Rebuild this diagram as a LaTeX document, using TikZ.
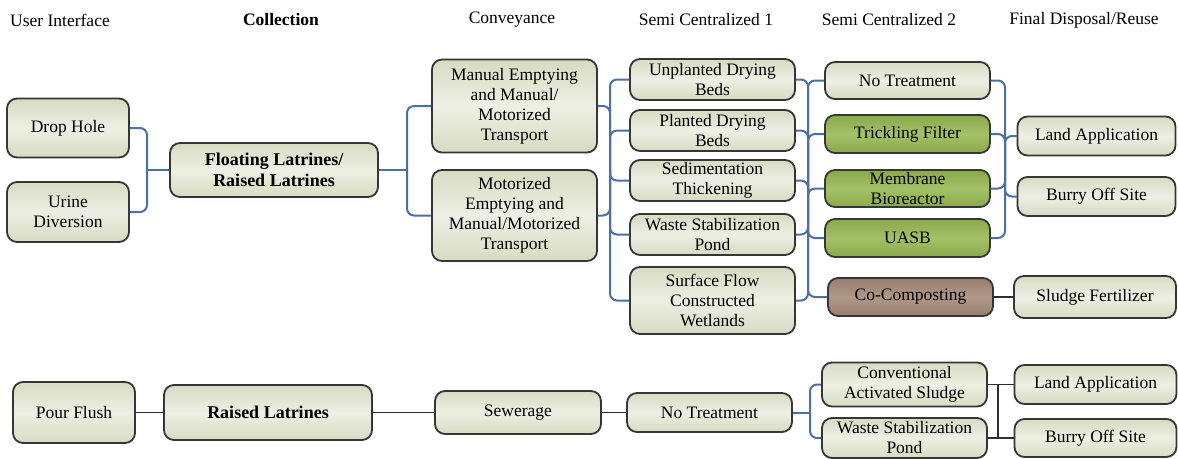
\documentclass[tikz,border=0pt]{standalone}
\usepackage{fontspec}
\setmainfont{Liberation Serif}
\usetikzlibrary{calc}
\definecolor{bord}{HTML}{363636}
\definecolor{bgA}{HTML}{D8DBC2}
\definecolor{bgB}{HTML}{EDEFE3}
\definecolor{grA}{HTML}{8AA94A}
\definecolor{grB}{HTML}{A3C167}
\definecolor{brA}{HTML}{977E6D}
\definecolor{brB}{HTML}{B09888}
\definecolor{link}{HTML}{4E6FA2}
\definecolor{dlink}{HTML}{2E2E2E}
\tikzset{
  box/.style={draw=bord, line width=1.8pt, rounded corners=10pt, top color=bgA, bottom color=bgA, middle color=bgB, align=center, inner sep=0pt, font=\fontsize{17.5}{20}\selectfont},
  gbox/.style={box, top color=grA, bottom color=grA, middle color=grB},
  bbox/.style={box, top color=brA, bottom color=brA, middle color=brB},
  sz/.style 2 args={minimum width=#1pt, minimum height=#2pt},
  conn/.style={draw=link, line width=2pt, rounded corners=7pt},
  dconn/.style={draw=dlink, line width=1.8pt},
  hdr/.style={font=\fontsize{17.5}{20}\selectfont, inner sep=0pt},
}
\begin{document}
\begin{tikzpicture}[x=1pt,y=-1pt]
\useasboundingbox (0,0) rectangle (1178,458);
\fill[white] (0,0) rectangle (1178,458);
% headers
\node[hdr] (h1) at (60,20) {User Interface};
\node[hdr] (h2) at (281,20) {\bfseries Collection};
\node[hdr] (h3) at (512,20) {Conveyance};
\node[hdr] (h4) at (706,20) {Semi Centralized 1};
\node[hdr] (h5) at (889,20) {Semi Centralized 2};
\node[hdr] (h6) at (1084,20) {Final Disposal/Reuse};
% top system
\node[box, sz={122}{59}] (dh) at (68,128) {Drop Hole};
\node[box, sz={122}{60}] (ud) at (68,212) {Urine\\Diversion};
\node[box, sz={208}{54}, font=\fontsize{18}{20.5}\selectfont\bfseries] (fl) at (274,170) {Floating Latrines/\\Raised Latrines};
\node[box, sz={165}{93}] (man) at (514.5,106) {Manual Emptying\\and Manual/\\Motorized\\Transport};
\node[box, sz={165}{91}] (mot) at (514.5,215.5) {Motorized\\Emptying and\\Manual/Motorized\\Transport};
\node[box, sz={165}{41}] (unp) at (712.5,79.5) {Unplanted Drying\\Beds};
\node[box, sz={165}{41}] (pla) at (712.5,130.5) {Planted Drying\\Beds};
\node[box, sz={165}{41}] (sed) at (712.5,180.5) {Sedimentation\\Thickening};
\node[box, sz={165}{41}] (wsp) at (712.5,234.5) {Waste Stabilization\\Pond};
\node[box, sz={165}{67}] (sfc) at (712.5,300.5) {Surface Flow\\Constructed\\Wetlands};
\node[box, sz={165}{37}] (ntr) at (907.5,80.5) {No Treatment};
\node[gbox, sz={165}{38}] (trf) at (907.5,134) {Trickling Filter};
\node[gbox, sz={165}{37}] (mbr) at (907.5,188.5) {Membrane\\Bioreactor};
\node[gbox, sz={165}{38}] (uasb) at (907.5,238) {UASB};
\node[bbox, sz={165}{38}] (coc) at (910.5,297) {Co-Composting};
\node[box, sz={158}{39}] (lap) at (1096.5,136) {Land Application};
\node[box, sz={158}{39}] (bos) at (1096.5,196.5) {Burry Off Site};
\node[box, sz={162}{42}] (slf) at (1095,297) {Sludge Fertilizer};
% bottom system
\node[box, sz={122}{61}] (pf) at (74,412.5) {Pour Flush};
\node[box, sz={208}{55}, font=\fontsize{18}{20.5}\selectfont\bfseries] (rl) at (268,412.5) {Raised Latrines};
\node[box, sz={166}{43}] (sew) at (518,412.5) {Sewerage};
\node[box, sz={165}{39}] (nt2) at (709.5,412.5) {No Treatment};
\node[box, sz={165}{44}] (cas) at (904.5,384.5) {Conventional\\Activated Sludge};
\node[box, sz={165}{40}] (wsp2) at (904.5,438) {Waste Stabilization\\Pond};
\node[box, sz={162}{39}] (la2) at (1095.5,384.5) {Land Application};
\node[box, sz={162}{38}] (bo2) at (1095.5,438) {Burry Off Site};
% bus points
\coordinate (b0) at (147,170);
\coordinate (b1) at (407,170);
\coordinate (b2) at (610,170);
\coordinate (b3) at (808,190);
\coordinate (b4) at (1005,165);
\coordinate (b5) at (810,412.5);
\coordinate (b6) at (998,412);
% top connectors
\draw[conn] (dh.east) -| (b0);
\draw[conn] (ud.east) -| (b0);
\draw[conn] (b0) -- (fl.west);
\draw[conn] (fl.east) -- (b1);
\draw[conn] (b1) |- (man.west);
\draw[conn] (b1) |- (mot.west);
\draw[conn] (man.east) -| (b2);
\draw[conn] (mot.east) -| (b2);
\foreach \n in {unp,pla,sed,wsp,sfc} {\draw[conn] (b2) |- (\n.west);}
\foreach \n in {unp,pla,sed,wsp,sfc} {\draw[conn] (\n.east) -| (b3);}
\foreach \n in {ntr,trf,mbr,uasb,coc} {\draw[conn] (b3) |- (\n.west);}
\foreach \n in {ntr,trf,mbr,uasb} {\draw[conn] (\n.east) -| (b4);}
\draw[conn] (b4) |- (lap.west);
\draw[conn] (b4) |- (bos.west);
\draw[dconn] (coc.east) -- (slf.west);
% bottom connectors
\draw[dconn] (pf.east) -- (rl.west);
\draw[dconn] (rl.east) -- (sew.west);
\draw[dconn] (sew.east) -- (nt2.west);
\draw[conn] (nt2.east) -- (b5);
\draw[conn] (b5) |- (cas.west);
\draw[conn] (b5) |- (wsp2.west);
\draw[dconn] (cas.east) -- (la2.west);
\draw[dconn] (wsp2.east) -- (bo2.west);
\draw[dconn] (b6 |- cas.east) -- (b6 |- wsp2.east);
\end{tikzpicture}
\end{document}
